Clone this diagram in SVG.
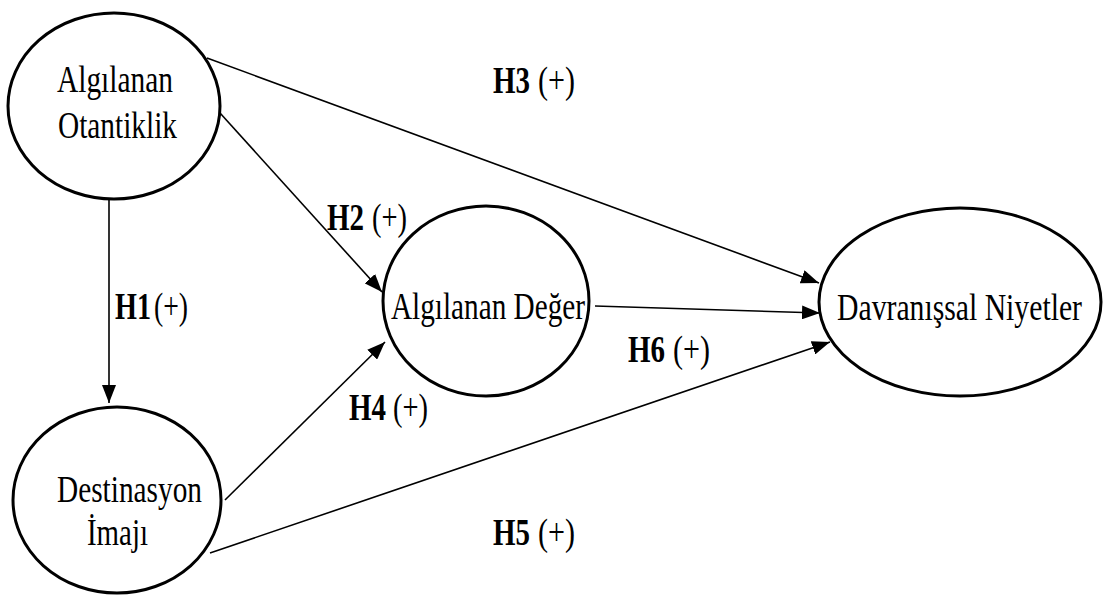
<svg xmlns="http://www.w3.org/2000/svg" width="1103" height="595" viewBox="0 0 1103 595">
  <style>
    .node { fill: #ffffff; stroke: #000000; stroke-width: 3; }
    .t { font-family: "Liberation Serif", "Times New Roman", serif; font-size: 38px; fill: #000000; }
    .lbl { font-family: "Liberation Serif", "Times New Roman", serif; font-size: 38px; fill: #000000; }
    .b { font-weight: bold; }
    .edge { stroke: #000000; stroke-width: 1.6; fill: none; marker-end: url(#arrow); }
  </style>
  <defs>
    <marker id="arrow" markerUnits="userSpaceOnUse" viewBox="0 0 18 14" refX="18" refY="7" markerWidth="18" markerHeight="14" orient="auto">
      <path d="M0,0 L18,7 L0,14 z" fill="#000000"/>
    </marker>
  </defs>
  <rect width="1103" height="595" fill="#ffffff"/>

  <g id="connectors">
    <line class="edge" x1="109" y1="200" x2="109" y2="403"/>
    <line class="edge" x1="207" y1="58" x2="819" y2="283"/>
    <line class="edge" x1="220" y1="113" x2="382" y2="292"/>
    <line class="edge" x1="225" y1="500" x2="385" y2="342"/>
    <line class="edge" x1="210" y1="553" x2="830" y2="342"/>
    <line class="edge" x1="595" y1="306" x2="820" y2="313"/>
  </g>

  <g id="node-algilanan-otantiklik">
    <ellipse class="node" cx="114" cy="106" rx="106" ry="93"/>
    <text class="t" x="57" y="92" textLength="116" lengthAdjust="spacingAndGlyphs">Algılanan</text>
    <text class="t" x="58" y="138" textLength="119" lengthAdjust="spacingAndGlyphs">Otantiklik</text>
  </g>

  <g id="node-destinasyon-imaji">
    <ellipse class="node" cx="117" cy="500" rx="104" ry="93"/>
    <text class="t" x="57" y="502" textLength="145" lengthAdjust="spacingAndGlyphs">Destinasyon</text>
    <text class="t" x="87" y="545" textLength="61" lengthAdjust="spacingAndGlyphs">İmajı</text>
  </g>

  <g id="node-algilanan-deger">
    <ellipse class="node" cx="486" cy="301" rx="103" ry="95"/>
    <text class="t" x="391" y="319" textLength="194" lengthAdjust="spacingAndGlyphs">Algılanan Değer</text>
  </g>

  <g id="node-davranissal-niyetler">
    <ellipse class="node" cx="960" cy="302" rx="141" ry="94"/>
    <text class="t" x="837" y="320" textLength="245" lengthAdjust="spacingAndGlyphs">Davranışsal Niyetler</text>
  </g>

  <g id="labels">
    <text class="lbl b" x="493" y="93" textLength="37" lengthAdjust="spacingAndGlyphs">H3</text>
    <text class="lbl" x="538" y="93" textLength="37" lengthAdjust="spacingAndGlyphs">(+)</text>
    <text class="lbl b" x="327" y="230" textLength="37" lengthAdjust="spacingAndGlyphs">H2</text>
    <text class="lbl" x="372" y="230" textLength="35" lengthAdjust="spacingAndGlyphs">(+)</text>
    <text class="lbl b" x="115" y="319" textLength="36" lengthAdjust="spacingAndGlyphs">H1</text>
    <text class="lbl" x="154" y="319" textLength="34" lengthAdjust="spacingAndGlyphs">(+)</text>
    <text class="lbl b" x="349" y="420" textLength="37" lengthAdjust="spacingAndGlyphs">H4</text>
    <text class="lbl" x="393" y="420" textLength="35" lengthAdjust="spacingAndGlyphs">(+)</text>
    <text class="lbl b" x="628" y="362" textLength="37" lengthAdjust="spacingAndGlyphs">H6</text>
    <text class="lbl" x="673" y="362" textLength="37" lengthAdjust="spacingAndGlyphs">(+)</text>
    <text class="lbl b" x="493" y="545" textLength="37" lengthAdjust="spacingAndGlyphs">H5</text>
    <text class="lbl" x="538" y="545" textLength="37" lengthAdjust="spacingAndGlyphs">(+)</text>
  </g>
</svg>
